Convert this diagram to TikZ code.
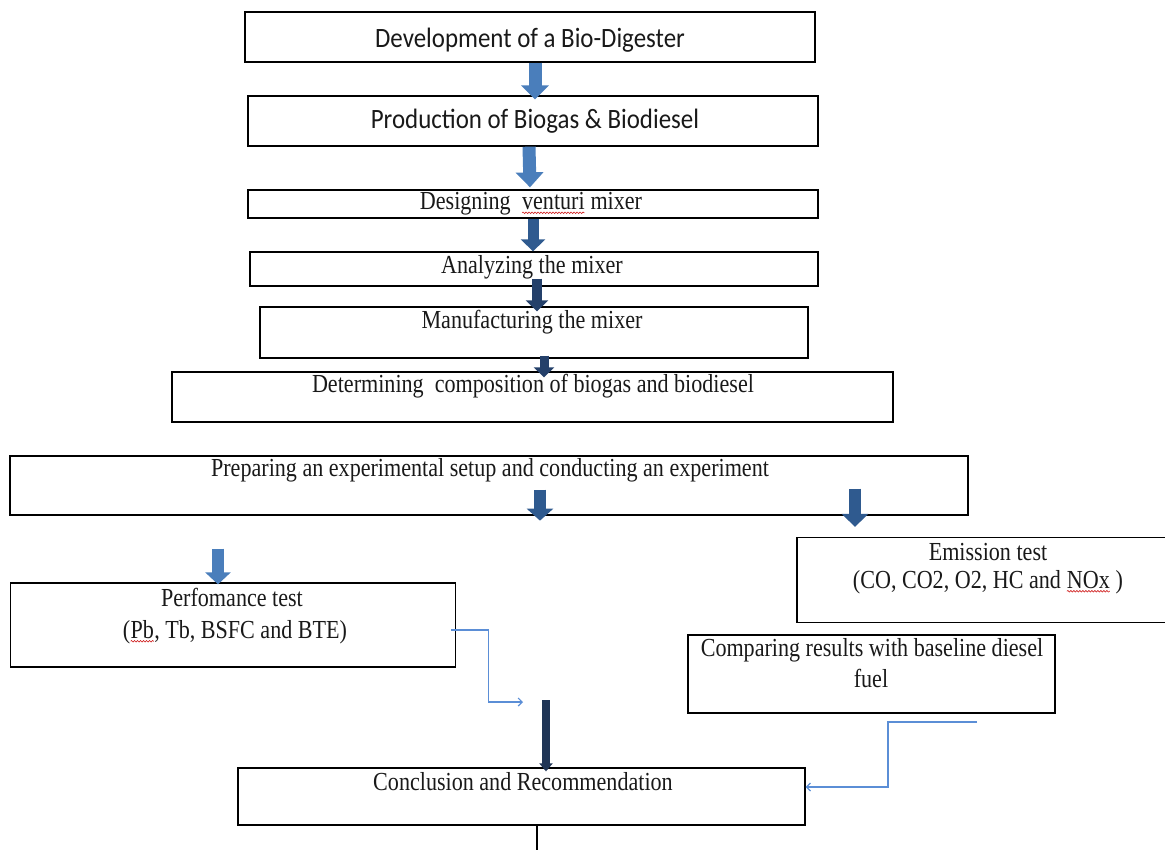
\documentclass[tikz,border=0pt]{standalone}
\usepackage{fontspec}
\setmainfont[FakeStretch=0.85]{Liberation Serif}
\newfontfamily\calib[FakeStretch=0.89]{Carlito}
\usetikzlibrary{arrows.meta,decorations.pathmorphing}
\definecolor{arA}{HTML}{4A7EBB}
\definecolor{arB}{HTML}{2F5A8F}
\definecolor{arC}{HTML}{24406A}
\definecolor{barc}{HTML}{1F3556}
\definecolor{conn}{HTML}{5B8ED6}
\definecolor{squigc}{HTML}{D02020}
\newcommand\squig[1]{\tikz[baseline=(sq.base)]{\node[inner sep=0pt,outer sep=0pt](sq){#1};\draw[squigc,line width=0.6pt,decorate,decoration={snake,amplitude=0.8pt,segment length=3pt}]([yshift=-3pt]sq.base west)--([yshift=-3pt]sq.base east);}}
\tikzset{
  box/.style={draw=black, line width=1.3pt, rectangle, inner sep=0pt},
  ttxt/.style={font=\fontsize{26}{28}\selectfont, inner sep=0pt, text=black!90},
  stxt/.style={font=\calib\fontsize{28}{30}\selectfont, inner sep=0pt, text=black!90},
  barrow/.style n args={4}{draw=#1, line width=#2, -{Triangle[width=#3,length=#4]}},
  thinconn/.style={draw=conn, line width=1.2pt, -{Straight Barb[length=4pt,width=8pt]}},
}
\begin{document}
\begin{tikzpicture}[x=1pt,y=-1pt]
\useasboundingbox (0,0) rectangle (1165,849);
% boxes
\node[box, minimum width=570pt, minimum height=50pt] (b1) at (530,37) {};
\node[box, minimum width=570pt, minimum height=50pt] (b2) at (533,121) {};
\node[box, minimum width=570pt, minimum height=28pt] (b3) at (533,204) {};
\node[box, minimum width=568pt, minimum height=34pt] (b4) at (534,269) {};
\node[box, minimum width=548pt, minimum height=51pt] (b5) at (534,332.5) {};
\node[box, minimum width=721pt, minimum height=50pt] (b6) at (532.5,397) {};
\node[box, minimum width=958pt, minimum height=59pt] (b7) at (489,485.5) {};
\node[box, minimum width=445pt, minimum height=84pt] (b8) at (233,625) {};
\node[box, minimum width=375pt, minimum height=85pt] (b9) at (984.5,580) {};
\node[box, minimum width=367pt, minimum height=78pt] (b10) at (871.5,674) {};
\node[box, minimum width=567pt, minimum height=57pt] (b11) at (521.5,796.5) {};
% texts
\node[stxt] (t1) at (530,40) {Development of a Bio-Digester};
\node[stxt] (t2) at (535,121) {Production of Biogas \& Biodiesel};
\node[ttxt] (t3) at (531,204) {Designing\ \ \squig{venturi} mixer};
\node[ttxt] (t4) at (532,267) {Analyzing the mixer};
\node[ttxt] (t5) at (532,322) {Manufacturing the mixer};
\node[ttxt] (t6) at (533,386) {Determining\ \ composition of biogas and biodiesel};
\node[ttxt] (t7) at (490,470) {Preparing an experimental setup and conducting an experiment};
\node[ttxt] (t8a) at (232,597) {Perfomance test};
\node[ttxt] (t8b) at (235,632) {(\squig{Pb}, Tb, BSFC and BTE)};
\node[ttxt] (t9a) at (988,552) {Emission test};
\node[ttxt] (t9b) at (988,582) {(CO, CO2, O2, HC and \squig{NOx} )};
\node[ttxt] (t10a) at (872,650) {Comparing results with baseline diesel};
\node[ttxt] (t10b) at (871,678) {fuel};
\node[ttxt] (t11) at (523,782) {Conclusion and Recommendation};
% block arrows
\draw[barrow={arA}{13pt}{27pt}{14pt}] ([xshift=5pt]b1.south) -- ([xshift=2pt,yshift=-4pt]b2.north);
\draw[barrow={arA}{13pt}{27pt}{15pt}] ([xshift=-4pt]b2.south) -- ([xshift=-3pt,yshift=2pt]b3.north);
\draw[barrow={arB}{11pt}{24pt}{12pt}] ([xshift=0pt]b3.south) -- ([xshift=-1pt]b4.north);
\draw[barrow={arC}{10pt}{22pt}{11pt}] ([xshift=3pt,yshift=8pt]b4.south) -- ([xshift=3pt,yshift=-5pt]b5.north);
\draw[barrow={arC}{9pt}{20pt}{10pt}] ([xshift=10pt,yshift=3pt]b5.south) -- ([xshift=11.5pt,yshift=-6pt]b6.north);
\draw[barrow={arB}{12pt}{26pt}{12pt}] ([xshift=51pt,yshift=26pt]b7.south) -- ([xshift=51pt,yshift=-5pt]b7.south);
\draw[barrow={arB}{12pt}{26pt}{13pt}] ([xshift=366pt,yshift=27pt]b7.south) -- ([xshift=-129.5pt,yshift=10pt]b9.north);
\draw[barrow={arA}{12pt}{25pt}{12pt}] ([xshift=-271pt,yshift=-33pt]b7.south) -- ([xshift=-15pt,yshift=-2pt]b8.north);
\coordinate (barstart) at (546,700);
\draw[barrow={barc}{8pt}{13pt}{8pt}] (barstart) -- ([xshift=24.5pt,yshift=-4pt]b11.north);
% thin connectors
\coordinate (c1e) at (523,702);
\draw[thinconn] ([xshift=-5pt,yshift=-5pt]b8.east) -- ++(37,0) |- (c1e);
\coordinate (c2s) at (977,722);
\draw[thinconn] (c2s) -- ++(-89,0) |- ([yshift=9.5pt]b11.east);
% bottom line
\draw[black, line width=2pt] ([xshift=15pt]b11.south) -- ++(0,30);
\end{tikzpicture}
\end{document}
